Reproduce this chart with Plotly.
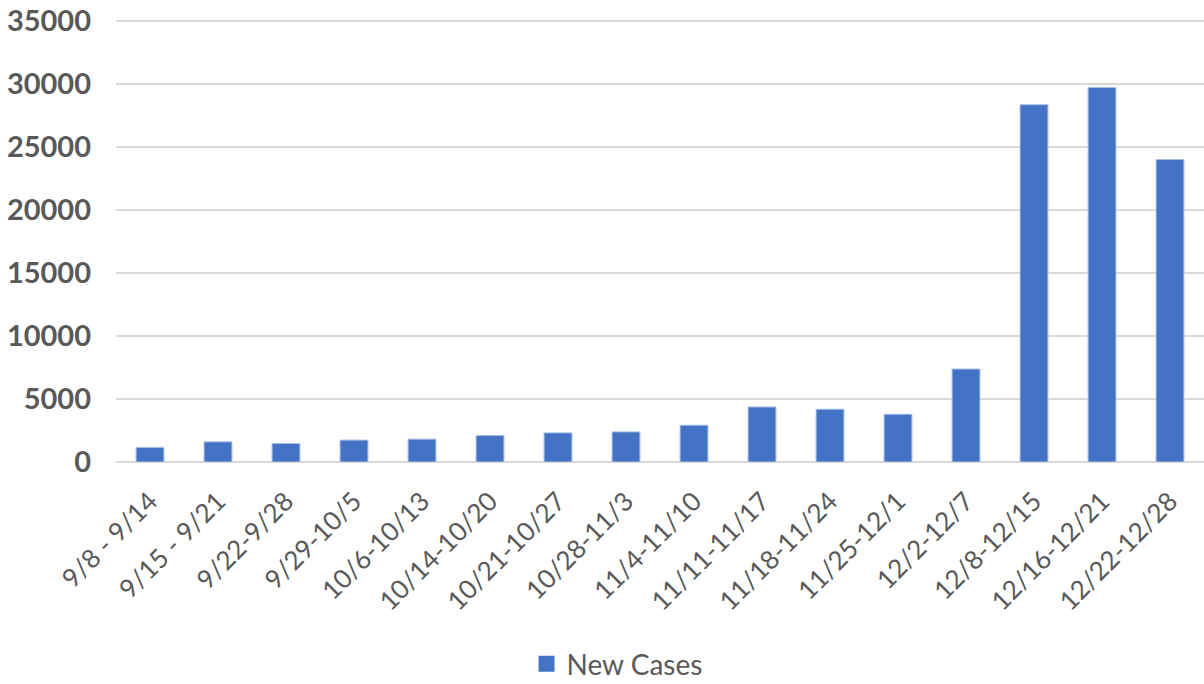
import plotly.graph_objects as go

categories = ["9/8 - 9/14", "9/15 - 9/21", "9/22-9/28", "9/29-10/5", "10/6-10/13",
              "10/14-10/20", "10/21-10/27", "10/28-11/3", "11/4-11/10", "11/11-11/17",
              "11/18-11/24", "11/25-12/1", "12/2-12/7", "12/8-12/15", "12/16-12/21",
              "12/22-12/28"]
new_cases = [1160, 1600, 1470, 1740, 1815, 2100, 2310, 2390, 2920, 4370,
             4190, 3790, 7380, 28360, 29730, 24010]
y_ticks = [0, 5000, 10000, 15000, 20000, 25000, 30000, 35000]

BAR_COLOR = "#4472C4"

fig = go.Figure()
fig.add_trace(go.Bar(
    x=categories, y=new_cases, name="New Cases", showlegend=False,
    marker=dict(color=BAR_COLOR, line=dict(color="#A9C0E8", width=1)),
))
# legend entry with a larger square swatch
fig.add_trace(go.Scatter(
    x=[None], y=[None], mode="markers", name="New Cases",
    marker=dict(symbol="square", size=17, color=BAR_COLOR),
))

fig.update_layout(
    width=1204, height=684,
    margin=dict(l=116, r=0, t=20, b=222, autoexpand=False),
    paper_bgcolor="white", plot_bgcolor="white",
    bargap=0.59,
    font=dict(family="Lato, Open Sans, sans-serif", color="#595959"),
    showlegend=True,
    legend=dict(orientation="h", x=0.4605, xanchor="center",
                yref="container", y=0.029, yanchor="middle",
                font=dict(size=28, color="#595959"), itemwidth=30),
    xaxis=dict(tickangle=-45, tickfont=dict(size=26, color="#595959"),
               showgrid=False, showline=False, ticks="", automargin=False,
               ticklabelstandoff=18),
    yaxis=dict(range=[0, 35080], tickvals=y_ticks, ticktext=[str(v) for v in y_ticks],
               tickfont=dict(size=29, color="#595959", weight="bold"),
               showgrid=True, gridcolor="#D9D9D9", gridwidth=2,
               zeroline=True, zerolinecolor="#D9D9D9", zerolinewidth=2,
               ticklabelstandoff=24, ticklabeloverflow="allow",
               showline=False, automargin=False),
)

fig.write_html("out.html", config={"displayModeBar": False},
               post_script="document.body.style.margin='0';document.body.style.overflow='hidden';")
